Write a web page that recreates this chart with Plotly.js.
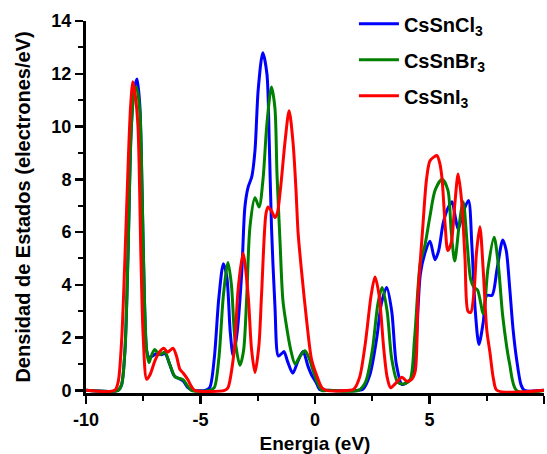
<!DOCTYPE html>
<html>
<head>
<meta charset="utf-8">
<script src="https://cdn.plot.ly/plotly-3.0.1.min.js"></script>
<style>html,body{margin:0;padding:0;background:#fff;}#chart{width:547px;height:454px;}</style>
</head>
<body>
<div id="chart"></div>
<script>
// Series names
const seriesNames = ['CsSnCl<sub>3</sub>', 'CsSnBr<sub>3</sub>', 'CsSnI<sub>3</sub>'];

// CsSnCl3 (blue): energy (eV) and DOS (electrones/eV)
const energyCl = [-10, -8.6, -8.45, -8.3, -8.17, -8.03, -7.9, -7.77, -7.65, -7.55, -7.45, -7.35, -7.25, -7.1, -6.9, -6.7, -6.55, -6.35, -6.15, -5.95, -5.75, -5.55, -5.35, -4.8,
  -4.6, -4.4, -4.2, -4.0, -3.85, -3.7, -3.57, -3.4, -3.2, -3.06, -2.92, -2.76, -2.62, -2.48, -2.28, -2.1, -2.0, -1.9, -1.75, -1.6, -1.45, -1.35, -1.2, -0.97, -0.75, -0.52, -0.3, -0.13, 0.05, 0.22, 0.5,
  1.9, 2.1, 2.4, 2.7, 2.9, 3.13, 3.35, 3.55, 3.8, 4.0, 4.2, 4.4, 4.6, 4.8, 5.02, 5.24, 5.4, 5.6, 5.8, 5.98, 6.12, 6.25, 6.45, 6.7, 6.85, 7.0, 7.16, 7.35, 7.5, 7.73, 7.95, 8.2, 8.35, 8.5, 8.65, 8.8, 9.0, 9.15, 10];
const dosCl = [0, 0, 0.2, 1.5, 5.0, 9.8, 11.4, 11.8, 10.8, 7.5, 3.5, 1.5, 1.25, 1.3, 1.4, 1.35, 1.4, 1.0, 0.55, 0.45, 0.35, 0.1, 0, 0,
  0.1, 1.2, 3.5, 4.8, 4.3, 2.2, 1.3, 2.2, 4.45, 6.96, 7.7, 8.1, 9.1, 11.4, 12.8, 12.0, 9.5, 6.2, 3.2, 1.3, 1.4, 1.47, 1.1, 0.65, 1.1, 1.47, 0.9, 0.55, 0.3, 0.02, 0,
  0, 0.05, 0.6, 2.0, 3.3, 3.9, 3.0, 1.0, 0.22, 0.3, 0.45, 1.6, 4.4, 5.2, 5.65, 4.95, 5.3, 6.35, 6.9, 7.15, 6.6, 6.1, 6.7, 7.2, 5.5, 3.0, 1.74, 2.6, 3.6, 3.6, 4.6, 5.7, 5.3, 3.9, 2.3, 1.2, 0.2, 0, 0];

// CsSnBr3 (green)
const energyBr = [-10, -8.6, -8.45, -8.3, -8.17, -8.03, -7.9, -7.8, -7.65, -7.55, -7.45, -7.35, -7.25, -7.15, -7.0, -6.85, -6.77, -6.55, -6.35, -6.1, -5.9, -5.75, -5.55, -5.4, -4.6,
  -4.4, -4.2, -4.0, -3.8, -3.65, -3.5, -3.28, -3.12, -2.98, -2.84, -2.62, -2.44, -2.27, -2.1, -1.9, -1.75, -1.66, -1.53, -1.4, -1.22, -1.05, -0.87, -0.65, -0.44, -0.25, -0.1, 0.1, 0.3, 0.6,
  1.9, 2.2, 2.5, 2.75, 2.93, 3.15, 3.35, 3.62, 3.9, 4.15, 4.35, 4.6, 4.8, 5.02, 5.25, 5.55, 5.8, 5.95, 6.1, 6.3, 6.47, 6.65, 6.8, 6.95, 7.1, 7.35, 7.55, 7.82, 8.0, 8.2, 8.5, 8.8, 10];
const dosBr = [0, 0, 0.2, 1.5, 5.0, 9.8, 11.3, 11.5, 10.6, 7.5, 3.5, 1.5, 1.05, 1.3, 1.55, 1.4, 1.35, 1.45, 1.0, 0.5, 0.45, 0.4, 0.15, 0, 0,
  0.1, 1.2, 3.6, 4.85, 4.0, 2.0, 0.95, 1.5, 3.57, 6.2, 7.3, 6.95, 8.0, 10.1, 11.5, 10.7, 8.2, 5.7, 3.4, 2.3, 1.5, 1.0, 1.3, 1.5, 1.2, 0.8, 0.3, 0, 0,
  0, 0.3, 1.5, 3.3, 3.9, 3.0, 1.2, 0.3, 0.25, 0.4, 2.0, 4.85, 5.5, 6.6, 7.6, 8.0, 7.6, 6.0, 4.9, 6.3, 7.15, 5.5, 4.2, 3.9, 3.8, 2.9, 4.6, 5.8, 4.8, 2.8, 1.0, 0, 0];

// CsSnI3 (red)
const energyI = [-10, -8.75, -8.6, -8.45, -8.3, -8.15, -8.05, -7.95, -7.85, -7.73, -7.6, -7.5, -7.35, -7.2, -7.0, -6.8, -6.6, -6.45, -6.35, -6.2, -6.05, -5.9, -5.75, -5.55, -5.4, -5.25, -3.95,
  -3.8, -3.6, -3.49, -3.36, -3.14, -2.92, -2.77, -2.62, -2.45, -2.33, -2.14, -2.05, -1.9, -1.75, -1.65, -1.5, -1.3, -1.13, -0.96, -0.83, -0.74, -0.58, -0.36, -0.15, 0.08, 0.3, 0.5,
  1.5, 1.7, 1.95, 2.2, 2.45, 2.62, 2.8, 3.0, 3.15, 3.3, 3.5, 3.8, 4.0, 4.2, 4.37, 4.5, 4.72, 4.87, 5.02, 5.2, 5.33, 5.45, 5.55, 5.68, 5.8, 5.95, 6.1, 6.25, 6.4, 6.55, 6.68, 6.8, 6.95, 7.05, 7.2, 7.35, 7.5, 7.64, 7.8, 7.95, 10];
const dosI = [0, 0, 0.3, 1.8, 5.0, 8.8, 10.8, 11.7, 11.2, 10.0, 5.0, 2.0, 0.42, 0.6, 1.1, 1.45, 1.6, 1.45, 1.5, 1.6, 1.3, 0.8, 0.65, 0.4, 0.15, 0, 0,
  0.1, 1.0, 1.9, 3.8, 5.2, 3.6, 1.55, 0.68, 1.7, 3.7, 6.7, 6.95, 6.8, 6.55, 6.7, 7.7, 9.5, 10.6, 9.4, 7.6, 6.0, 4.45, 2.6, 1.17, 0.55, 0.1, 0,
  0, 0.05, 0.5, 1.8, 3.6, 4.3, 3.6, 1.6, 0.5, 0.1, 0.25, 0.5, 0.35, 0.4, 0.7, 3.6, 6.35, 8.0, 8.7, 8.85, 8.9, 8.6, 8.0, 6.3, 5.3, 5.6, 7.0, 8.2, 7.2, 5.0, 3.0, 2.95, 3.8, 5.2, 6.2, 4.5, 2.3, 1.43, 0.4, 0, 0];

const xTickVals = [-10, -5, 0, 5, 10];
const yTickVals = [0, 2, 4, 6, 8, 10, 12, 14];
const xTitle = 'Energia (eV)';
const yTitle = 'Densidad de Estados (electrones/eV)';

const colors = ['#0000ff', '#008000', '#ff0000'];
const font = {family: 'Liberation Sans, Arial, sans-serif', color: '#000', weight: 'bold'};

function mk(x, y, i) {
  return {x: x, y: y, type: 'scatter', mode: 'lines', name: seriesNames[i], legendgroup: 'g' + i,
    line: {color: colors[i], width: 3, shape: 'spline', smoothing: 0.8}};
}
const traces = [mk(energyCl, dosCl, 0), mk(energyBr, dosBr, 1), mk(energyI, dosI, 2)];

const axisCommon = {showgrid: false, zeroline: false, showline: true, linecolor: '#000', linewidth: 3,
  ticks: 'outside', ticklen: 8, tickwidth: 2.5, tickcolor: '#000',
  tickfont: Object.assign({size: 18}, font), mirror: false};

const layout = {
  width: 547, height: 454,
  margin: {l: 86, r: 3, t: 21, b: 61},
  paper_bgcolor: '#fff', plot_bgcolor: '#fff',
  showlegend: true,
  legend: {x: 0.585, y: 1.045, xanchor: 'left', yanchor: 'top', font: Object.assign({size: 20}, font),
    bgcolor: 'rgba(0,0,0,0)', tracegroupgap: 7, itemwidth: 40},
  xaxis: Object.assign({}, axisCommon, {range: [-10, 10], tickvals: xTickVals, ticktext: xTickVals.map(String),
    minor: {ticks: 'outside', ticklen: 5, tickwidth: 2, tickcolor: '#000', dtick: 2.5, tick0: -10},
    title: {text: xTitle, font: Object.assign({size: 19}, font), standoff: 28}}),
  yaxis: Object.assign({}, axisCommon, {range: [-0.1, 14], tickvals: yTickVals, ticktext: yTickVals.map(String),
    minor: {ticks: 'outside', ticklen: 5, tickwidth: 2, tickcolor: '#000', dtick: 1, tick0: 0},
    title: {text: yTitle, font: Object.assign({size: 20}, font), standoff: 16}})
};

Plotly.newPlot('chart', traces, layout, {displayModeBar: false, staticPlot: true});
</script>
</body>
</html>
